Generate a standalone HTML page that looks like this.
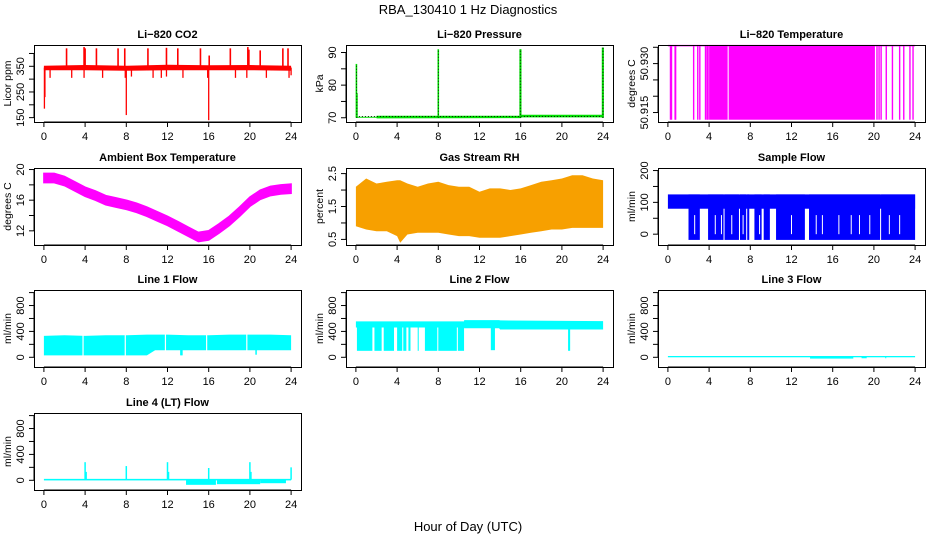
<!DOCTYPE html>
<html><head><meta charset="utf-8"><style>
html,body{margin:0;padding:0;background:#fff;width:936px;height:540px;overflow:hidden}
svg{display:block}
text{font-family:"Liberation Sans",sans-serif}
</style></head><body>
<svg id="fig" width="936" height="540" viewBox="0 0 936 540">
<text x="468" y="14" font-size="13" text-anchor="middle">RBA_130410  1 Hz Diagnostics</text>
<text x="468" y="531" font-size="13" text-anchor="middle">Hour of Day (UTC)</text>
</svg>
<script>
// ---- data ----
var xTicks=[0,4,8,12,16,20,24];
// CO2
var co2BandHours=[0,4,8,12,16,20,24];
var co2BandLow=[335,335,333,335,335,335,333];
var co2BandHigh=[352,355,352,356,354,355,352];
var co2SpikeHours=[2.2,3.9,4.0,5.1,7.2,7.85,10.1,11.9,13.0,15.2,16.05,18.1,19.8,19.9,21.0,23.2,23.7];
var co2SpikeValues=[420,425,420,420,420,420,420,422,420,420,392,420,425,415,412,420,420];
var co2DipHours=[0.05,0.1,0.6,2.7,3.9,5.7,7.9,8.0,8.5,10.6,11.4,11.9,13.5,15.9,16.0,18.6,19.7,21.6,23.8,24.0];
var co2DipValues=[185,230,305,305,305,305,305,160,310,305,305,310,305,305,140,305,305,305,305,315];
// Pressure
var presBandHours=[0,2,2.01,16,16.01,24];
var presBandLow=[70.0,70.0,69.8,69.9,70.1,70.1];
var presBandHigh=[70.3,70.3,70.6,70.6,70.9,70.9];
var presSpikeHours=[0.05,0.1,8.0,15.95,16.0,23.95,24.0];
var presSpikeValues=[86.5,77.5,91,91,91,91.5,91.5];
// Li-820 temperature
var tempLow=50.9128, tempHigh=50.9355;
var tempFillStart=[4.0,5.9];
var tempFillEnd=[5.8,20.1];
var tempLineHours=[0.25,0.35,0.7,0.75,2.5,2.9,3.1,3.65,3.8,3.9,20.3,20.5,20.7,21.2,21.8,22.5,22.9,23.5,23.8];
// Ambient
var ambHours=[0,1,2,3,4,5,6,7,8,9,10,11,12,13,14,15,16,17,18,19,20,21,22,23,24];
var ambCenter=[18.9,18.9,18.5,17.8,17.1,16.6,16.0,15.7,15.4,15.0,14.5,13.9,13.3,12.6,11.9,11.2,11.4,12.3,13.3,14.5,15.8,16.7,17.2,17.4,17.5];
var ambHalfWidth=[0.6,0.6,0.6,0.6,0.6,0.6,0.6,0.6,0.6,0.6,0.6,0.6,0.6,0.6,0.6,0.6,0.6,0.6,0.6,0.6,0.6,0.6,0.6,0.6,0.6];
// RH
var rhHours=[0,1,2,3,4,4.3,5,6,7,8,9,10,11,12,13,14,15,16,17,18,19,20,21,22,23,24];
var rhLow=[0.9,0.8,0.75,0.75,0.6,0.4,0.65,0.7,0.7,0.7,0.65,0.6,0.6,0.55,0.55,0.55,0.6,0.65,0.7,0.75,0.8,0.8,0.85,0.85,0.85,0.85];
var rhHigh=[2.1,2.35,2.2,2.25,2.3,2.3,2.2,2.1,2.2,2.25,2.15,2.1,2.1,1.95,2.05,2.05,2.0,2.05,2.15,2.25,2.3,2.35,2.45,2.45,2.35,2.3];
// Sample flow
var sfTopLow=80, sfTopHigh=125, sfBottom=-18;
var sfFillStart=[2.0,3.9,5.5,7.0,7.7,8.4,9.3,10.5,13.7,20.7];
var sfFillEnd=[3.1,5.4,6.9,7.6,7.9,9.1,9.9,13.3,20.6,24.0];
var sfGapHours=[2.6,4.6,5.2,6.2,7.3,8.9,12.0,14.4,15.0,16.6,17.8,18.6,19.6,21.5,22.5];
// Line 1
var l1Hours=[0,2,4,6,8,10,10.8,12,14,16,18,20,22,24];
var l1Low=[30,30,30,30,30,30,110,110,110,110,110,110,110,110];
var l1High=[330,340,330,340,340,350,350,350,340,340,350,350,350,340];
var l1GapHours=[3.8,7.9,11.8,15.8,19.7];
var l1DipHours=[13.3,13.4,20.6];
var l1DipValues=[30,30,40];
// Line 2
var l2Hours=[0,10.5,10.51,13.9,14.0,24];
var l2Low=[460,460,450,450,430,430];
var l2High=[555,555,575,575,570,560];
var l2FillStart=[0.1,1.8,2.7,4.0,4.6,5.1,6.0,6.7,8.0,9.9,13.1,20.6];
var l2FillEnd=[1.6,2.5,3.7,4.5,4.9,5.3,6.1,7.9,9.8,10.5,13.5,20.8];
var l2FillValue=[100,100,100,100,100,100,100,100,100,100,110,100];
// Line 3
var l3Level=10, l3Half=10;
var l3DipStart=[13.8,18.8,21.1];
var l3DipEnd=[18.0,19.3,21.2];
var l3DipValues=[-20,-15,-15];
// Line 4
var l4Level=10, l4Half=12;
var l4SpikeHours=[4.0,4.1,8.0,12.0,12.1,16.0,20.0,20.1,24.0];
var l4SpikeValues=[280,130,220,280,130,190,280,130,200];
var l4DipStart=[13.8,16.8,21.0];
var l4DipEnd=[16.7,21.0,23.5];
var l4DipValues=[-70,-60,-45];

// ---- helpers ----
var NS='http://www.w3.org/2000/svg';
var fig=document.getElementById('fig');
function mk(tag,attrs,parent){var e=document.createElementNS(NS,tag);for(var k in attrs)e.setAttribute(k,attrs[k]);(parent||fig).appendChild(e);return e;}
function panel(col,row,title,ytitle,ylim,yticks,ylabels,name){
  var x0=34+col*312,y0=45+Math.round(row*122.7),w=267,h=77;
  var g=mk('g',{});
  
  
  var p={g:g,x0:x0,y0:y0,w:w,h:h,
    sx:function(v){return x0+9.9+v/24*(w-19.8);},
    sy:function(v){return y0+h-(v-ylim[0])/(ylim[1]-ylim[0])*h;}};
  var t=mk('text',{x:x0+w/2,y:y0-7,'font-size':11,'font-weight':'bold','text-anchor':'middle'},g);
  t.textContent=title;
  
  
  var yt=mk('text',{x:x0-23,y:y0+h/2,'font-size':10.5,'text-anchor':'middle',transform:'rotate(-90 '+(x0-23)+' '+(y0+h/2)+')'},g);
  yt.textContent=ytitle;
  
  
  var ya=mk('line',{x1:x0,x2:x0,y1:p.sy(yticks[0]),y2:p.sy(yticks[yticks.length-1]),stroke:'#000'},g);
  
  
  yticks.forEach(function(v,i){
    var yy=p.sy(v);
    var tk=mk('line',{x1:x0-5,x2:x0,y1:yy,y2:yy,stroke:'#000'},g);
    
    
    if(ylabels[i]){
      var lb=mk('text',{x:x0-10,y:yy,'font-size':11,'text-anchor':'middle',transform:'rotate(-90 '+(x0-10)+' '+yy+')'},g);
      lb.textContent=ylabels[i];
      
      
    }
  });
  var xa=mk('line',{x1:p.sx(0),x2:p.sx(24),y1:y0+h,y2:y0+h,stroke:'#000'},g);
  
  
  xTicks.forEach(function(v){
    var xx=p.sx(v);
    var tk=mk('line',{x1:xx,x2:xx,y1:y0+h,y2:y0+h+5,stroke:'#000'},g);
    
    
    var lb=mk('text',{x:xx,y:y0+h+18,'font-size':11,'text-anchor':'middle'},g);
    lb.textContent=String(v);
    
    
  });
  p.plot=mk('g',{},g);
  
  
  return p;
}
function frame(p,name){
  var b=mk('rect',{x:p.x0+0.5,y:p.y0+0.5,width:p.w,height:p.h,fill:'none',stroke:'#000'},p.g);
  
  
}
function bandPath(p,hours,lo,hi){
  var s='';
  for(var i=0;i<hours.length;i++)s+=(i?'L':'M')+p.sx(hours[i]).toFixed(1)+' '+p.sy(hi[i]).toFixed(1);
  for(var j=hours.length-1;j>=0;j--)s+='L'+p.sx(hours[j]).toFixed(1)+' '+p.sy(lo[j]).toFixed(1);
  return s+'Z';
}
function vline(p,h,a,b,col,wd,name){
  var l=mk('line',{x1:p.sx(h),x2:p.sx(h),y1:p.sy(a),y2:p.sy(b),stroke:col,'stroke-width':wd||1},p.plot);
  
  
  return l;
}
function rectH(p,h1,h2,a,b,col,name){
  var r=mk('rect',{x:p.sx(h1),y:p.sy(b),width:Math.max(1,p.sx(h2)-p.sx(h1)),height:Math.max(1,p.sy(a)-p.sy(b)),fill:col},p.plot);
  
  
  return r;
}
var lt=[0,200,400,600,800,1000], ll=['0','','400','','800',''];

// CO2
var p=panel(0,0,'Li\u2212820 CO2','Licor ppm',[133,433],[150,200,250,300,350,400],['150','','250','','350',''],'co2');
var bp=mk('path',{d:bandPath(p,co2BandHours,co2BandLow,co2BandHigh),fill:'#ff0000'},p.plot);


co2SpikeHours.forEach(function(h,i){vline(p,h,345,co2SpikeValues[i],'#ff0000',1.6,'co2-spike');});
co2DipHours.forEach(function(h,i){vline(p,h,345,co2DipValues[i],'#ff0000',1.3,'co2-dip');});
frame(p,'co2');

// Pressure
p=panel(1,0,'Li\u2212820 Pressure','kPa',[68.7,92.3],[70,75,80,85,90],['70','','80','','90'],'pressure');
bp=mk('path',{d:bandPath(p,presBandHours,presBandLow,presBandHigh),fill:'#00e000'},p.plot);


var pl=mk('line',{x1:p.sx(0),x2:p.sx(24),y1:p.sy(70.4),y2:p.sy(70.4),stroke:'#000','stroke-width':0.8,'stroke-dasharray':'1 2'},p.plot);


presSpikeHours.forEach(function(h,i){
  vline(p,h,70,presSpikeValues[i],'#00e000',1.6,'pressure-spike');
  var d=vline(p,h,70,presSpikeValues[i],'#000',0.8,'pressure-spike-dots');
  d.setAttribute('stroke-dasharray','1 2');
});
frame(p,'pressure');

// Temperature
p=panel(2,0,'Li\u2212820 Temperature','degrees C',[50.9121,50.9357],[50.915,50.920,50.925,50.930,50.935],['50.915','','','50.930',''],'li820-temp');
tempFillStart.forEach(function(s,i){rectH(p,s,tempFillEnd[i],tempLow,tempHigh,'#ff00ff','temp-fill-block');});
tempLineHours.forEach(function(h){vline(p,h,tempLow,tempHigh,'#ff00ff',1.4,'temp-transition');});
var tl=mk('line',{x1:p.sx(0),x2:p.sx(24),y1:p.sy(tempHigh),y2:p.sy(tempHigh),stroke:'#ff00ff','stroke-width':1.5},p.plot);


frame(p,'li820-temp');

// Ambient
p=panel(0,1,'Ambient Box Temperature','degrees C',[10.15,20.2],[12,14,16,18,20],['12','','16','','20'],'ambient');
var aLo=ambCenter.map(function(c,i){return c-ambHalfWidth[i];});
var aHi=ambCenter.map(function(c,i){return c+ambHalfWidth[i];});
bp=mk('path',{d:bandPath(p,ambHours,aLo,aHi),fill:'#ff00ff',stroke:'#ff00ff','stroke-width':1.5},p.plot);


frame(p,'ambient');

// RH
p=panel(1,1,'Gas Stream RH','percent',[0.33,2.67],[0.5,1,1.5,2,2.5],['0.5','','1.5','','2.5'],'rh');
bp=mk('path',{d:bandPath(p,rhHours,rhLow,rhHigh),fill:'#f7a000'},p.plot);


frame(p,'rh');

// Sample flow
p=panel(2,1,'Sample Flow','ml/min',[-34,208],[0,50,100,150,200],['0','','100','','200'],'sample-flow');
rectH(p,0,24,sfTopLow,sfTopHigh,'#0000ff','sample-flow-top-band');
sfFillStart.forEach(function(s,i){rectH(p,s,sfFillEnd[i],sfBottom,sfTopHigh,'#0000ff','sample-flow-fill');});
sfGapHours.forEach(function(h){vline(p,h,0,60,'#ffffff',1,'sample-flow-gap');});
frame(p,'sample-flow');

// Line 1
p=panel(0,2,'Line 1 Flow','ml/min',[-150,1040],lt,ll,'line1');
bp=mk('path',{d:bandPath(p,l1Hours,l1Low,l1High),fill:'#00ffff'},p.plot);


l1GapHours.forEach(function(h){vline(p,h,0,400,'#ffffff',1.2,'line1-gap');});
l1DipHours.forEach(function(h,i){vline(p,h,150,l1DipValues[i],'#00ffff',1.5,'line1-dip');});
frame(p,'line1');

// Line 2
p=panel(1,2,'Line 2 Flow','ml/min',[-150,1040],lt,ll,'line2');
bp=mk('path',{d:bandPath(p,l2Hours,l2Low,l2High),fill:'#00ffff'},p.plot);


l2FillStart.forEach(function(s,i){rectH(p,s,l2FillEnd[i],l2FillValue[i],480,'#00ffff','line2-fill');});
frame(p,'line2');

// Line 3
p=panel(2,2,'Line 3 Flow','ml/min',[-150,1040],lt,ll,'line3');
rectH(p,0,24,l3Level-l3Half,l3Level+l3Half,'#00ffff','line3-band');
l3DipStart.forEach(function(s,i){rectH(p,s,l3DipEnd[i],l3DipValues[i],l3Level,'#00ffff','line3-dip');});
frame(p,'line3');

// Line 4
p=panel(0,3,'Line 4 (LT) Flow','ml/min',[-150,1040],lt,ll,'line4');
rectH(p,0,24,l4Level-l4Half,l4Level+l4Half,'#00ffff','line4-band');
l4DipStart.forEach(function(s,i){rectH(p,s,l4DipEnd[i],l4DipValues[i],l4Level,'#00ffff','line4-dip');});
l4SpikeHours.forEach(function(h,i){vline(p,h,l4Level,l4SpikeValues[i],'#00ffff',1.5,'line4-spike');});
frame(p,'line4');
</script>
</body></html>
